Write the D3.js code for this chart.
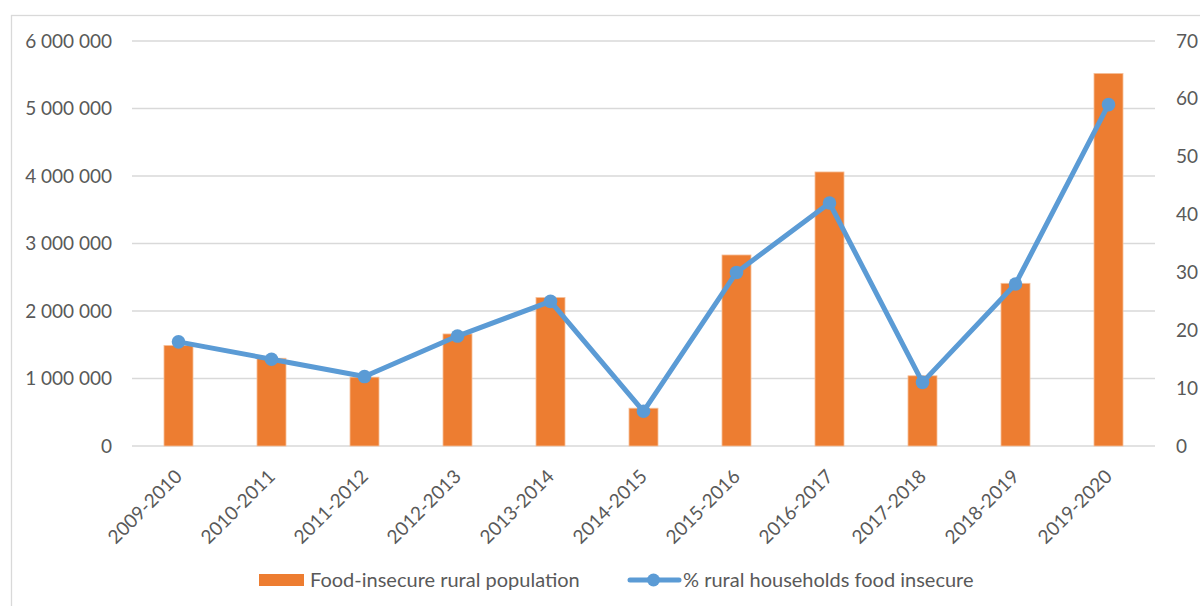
<!DOCTYPE html>
<html>
<head>
<meta charset="utf-8">
<script src="https://cdn.jsdelivr.net/npm/d3@7"></script>
<style>
  body { margin: 0; background: #fff; }
  text { font-family: Lato, "Open Sans", sans-serif; fill: #595959; }
</style>
</head>
<body>
<div id="chart"></div>
<script>
var seasons = ["2009-2010", "2010-2011", "2011-2012", "2012-2013", "2013-2014", "2014-2015",
               "2015-2016", "2016-2017", "2017-2018", "2018-2019", "2019-2020"];
var population = [1490000, 1300000, 1020000, 1660000, 2200000, 560000,
                  2830000, 4060000, 1040000, 2410000, 5520000];
var percent = [18, 15, 12, 19, 25, 6, 30, 42, 11, 28, 59];
var leftTicks = [0, 1000000, 2000000, 3000000, 4000000, 5000000, 6000000];
var rightTicks = [0, 10, 20, 30, 40, 50, 60, 70];
var seriesNames = ["Food-insecure rural population", "% rural households food insecure"];

var w = 1200, h = 606;
var orange = "#ED7D31", blue = "#5B9BD5", grid = "#d9d9d9";

var svg = d3.select("#chart").append("svg")
  .attr("width", w)
  .attr("height", h);

// chart frame
svg.append("rect")
  .attr("x", 11.5).attr("y", 15.5)
  .attr("width", 1400).attr("height", 800)
  .attr("fill", "none")
  .attr("stroke", grid)
  .attr("stroke-width", 1.3);

var x = d3.scaleBand()
  .domain(seasons)
  .range([132, 1155])
  .paddingInner(0.688)
  .paddingOuter(0.344);

var yLeft = d3.scaleLinear().domain([0, 6000000]).range([446, 41]);
var yRight = d3.scaleLinear().domain([0, 70]).range([446, 41]);

var fmt = d3.formatLocale({ decimal: ".", thousands: " ", grouping: [3], currency: ["", ""] }).format(",");

// gridlines
svg.append("g")
  .selectAll("line")
  .data(leftTicks)
  .enter()
  .append("line")
  .attr("x1", 132).attr("x2", 1155)
  .attr("y1", function(d) { return yLeft(d); })
  .attr("y2", function(d) { return yLeft(d); })
  .attr("stroke", grid)
  .attr("stroke-width", 1.5);

// left axis
var gl = svg.append("g")
  .attr("transform", "translate(132,0)")
  .call(d3.axisLeft(yLeft).tickValues(leftTicks).tickFormat(fmt).tickSize(0).tickPadding(20));
gl.select(".domain").remove();
gl.selectAll("text").style("font-size", "19px").style("font-family", null).attr("fill", null);

// right axis
var gr = svg.append("g")
  .attr("transform", "translate(1155,0)")
  .call(d3.axisRight(yRight).tickValues(rightTicks).tickSize(0).tickPadding(21));
gr.select(".domain").remove();
gr.selectAll("text").style("font-size", "19px").style("font-family", null).attr("fill", null);

// x labels
svg.append("g")
  .selectAll("text")
  .data(seasons)
  .enter()
  .append("text")
  .attr("transform", function(d) {
    return "translate(" + (x(d) + x.bandwidth() / 2) + ",473) rotate(-45)";
  })
  .attr("text-anchor", "end")
  .attr("dy", "0.35em")
  .style("font-size", "19px")
  .text(function(d) { return d; });

// bars
svg.append("g")
  .selectAll("rect")
  .data(population)
  .enter()
  .append("rect")
  .attr("x", function(d, i) { return x(seasons[i]); })
  .attr("y", function(d) { return yLeft(d); })
  .attr("width", x.bandwidth())
  .attr("height", function(d) { return yLeft(0) - yLeft(d); })
  .attr("fill", orange)
  .attr("stroke", "#f6c19c")
  .attr("stroke-width", 0.8);

// line
var line = d3.line()
  .x(function(d, i) { return x(seasons[i]) + x.bandwidth() / 2; })
  .y(function(d) { return yRight(d); });

svg.append("path")
  .datum(percent)
  .attr("d", line)
  .attr("fill", "none")
  .attr("stroke", blue)
  .attr("stroke-width", 5)
  .attr("stroke-linejoin", "round");

svg.append("g")
  .selectAll("circle")
  .data(percent)
  .enter()
  .append("circle")
  .attr("cx", function(d, i) { return x(seasons[i]) + x.bandwidth() / 2; })
  .attr("cy", function(d) { return yRight(d); })
  .attr("r", 6.8)
  .attr("fill", blue);

// legend
var lg = svg.append("g");
lg.append("rect")
  .attr("x", 259).attr("y", 574)
  .attr("width", 45).attr("height", 12)
  .attr("fill", orange);
lg.append("text")
  .attr("x", 310).attr("y", 580)
  .attr("dy", "0.35em")
  .style("font-size", "20px")
  .text(seriesNames[0]);
lg.append("line")
  .attr("x1", 630).attr("x2", 679)
  .attr("y1", 580).attr("y2", 580)
  .attr("stroke", blue)
  .attr("stroke-width", 5)
  .attr("stroke-linecap", "round");
lg.append("circle")
  .attr("cx", 653.5).attr("cy", 580)
  .attr("r", 6.5)
  .attr("fill", blue);
lg.append("text")
  .attr("x", 683).attr("y", 580)
  .attr("dy", "0.35em")
  .style("font-size", "20px")
  .text(seriesNames[1]);
</script>
</body>
</html>
